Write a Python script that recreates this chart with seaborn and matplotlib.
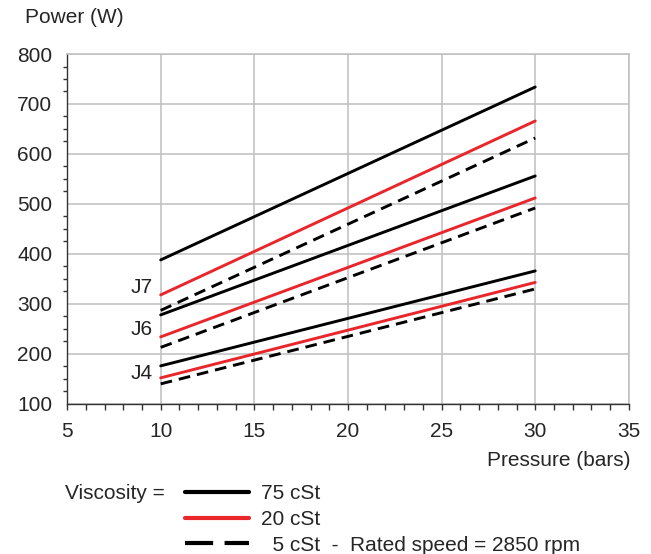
import matplotlib
matplotlib.use("Agg")
import matplotlib.pyplot as plt
from matplotlib.lines import Line2D
from matplotlib.ticker import MultipleLocator
import numpy as np
import pandas as pd
import seaborn as sns

# pressure end points (bars) for every curve
pressure = [10, 30]

# power (W) at 10 and 30 bars, per pump and viscosity
j7_75 = [388, 734]
j7_20 = [318, 666]
j7_5 = [287, 632]
j6_75 = [278, 556]
j6_20 = [234, 512]
j6_5 = [213, 492]
j4_75 = [176, 366]
j4_20 = [152, 343]
j4_5 = [140, 330]

pumps = ["J7", "J6", "J4"]
viscosities = ["75 cSt", "20 cSt", "5 cSt"]
label_y = [332, 248, 160]

series = {
    ("J7", "75 cSt"): j7_75, ("J7", "20 cSt"): j7_20, ("J7", "5 cSt"): j7_5,
    ("J6", "75 cSt"): j6_75, ("J6", "20 cSt"): j6_20, ("J6", "5 cSt"): j6_5,
    ("J4", "75 cSt"): j4_75, ("J4", "20 cSt"): j4_20, ("J4", "5 cSt"): j4_5,
}

rows = []
for (pump, visc), vals in series.items():
    for p, w in zip(pressure, vals):
        rows.append({"pump": pump, "viscosity": visc, "pressure": p, "power": w})
df = pd.DataFrame(rows)

sns.set_style("white")
plt.rcParams["font.family"] = ["Liberation Sans", "DejaVu Sans"]
plt.rcParams["font.size"] = 15

red = "#e8262b"
colors = {"75 cSt": "black", "20 cSt": red, "5 cSt": "black"}
dash_map = {"75 cSt": "", "20 cSt": "", "5 cSt": (4, 2.4)}

fig = plt.figure(figsize=(6.51, 5.54), dpi=100)
ax = fig.add_axes([0.103, 0.271, 0.863, 0.6315])

sns.lineplot(data=df, x="pressure", y="power", hue="viscosity", style="viscosity",
             units="pump", estimator=None, palette=colors, dashes=dash_map,
             hue_order=viscosities, style_order=viscosities,
             linewidth=2.1, legend=False, ax=ax)

for pump, y in zip(pumps, label_y):
    ax.text(9.55, y, pump, ha="right", va="center", fontsize=15, color="#222222")

ax.set_xlim(5, 35)
ax.set_ylim(100, 800)
ax.xaxis.set_major_locator(MultipleLocator(5))
ax.xaxis.set_minor_locator(MultipleLocator(1))
ax.yaxis.set_major_locator(MultipleLocator(100))
ax.yaxis.set_minor_locator(MultipleLocator(25))
ax.grid(True, which="major", color="#bfbfbf", linewidth=1.1)
ax.set_axisbelow(True)
for side in ["top", "right"]:
    ax.spines[side].set_color("#bfbfbf")
    ax.spines[side].set_linewidth(1.1)
for side in ["left", "bottom"]:
    ax.spines[side].set_color("#333333")
    ax.spines[side].set_linewidth(1.0)
ax.tick_params(which="both", color="#333333", labelsize=15, width=1.0)
ax.tick_params(axis="y", which="major", direction="inout", length=9, pad=6)
ax.tick_params(axis="y", which="minor", direction="out", length=3, left=True)
ax.tick_params(axis="x", which="both", direction="out", length=4, bottom=True, pad=9)
ax.set_xlabel("")
ax.set_ylabel("")

fig.text(0.038, 0.968, "Power (W)", ha="left", va="center", fontsize=15)
fig.text(0.968, 0.168, "Pressure (bars)", ha="right", va="center", fontsize=15)

fig.text(0.1, 0.109, "Viscosity =", ha="left", va="center", fontsize=15)
handles = [
    Line2D([0], [0], color="black", lw=3),
    Line2D([0], [0], color=red, lw=3),
    Line2D([0], [0], color="black", lw=3, dashes=(6.75, 2.75)),
]
labels = ["75 cSt", "20 cSt", "  5 cSt  -  Rated speed = 2850 rpm"]
fig.legend(handles, labels, loc="upper left", bbox_to_anchor=(0.284, 0.126),
           frameon=False, fontsize=15, handlelength=3.1, handletextpad=0.55,
           labelspacing=0.32, borderpad=0, borderaxespad=0)

fig.savefig("out.png", dpi=100)
